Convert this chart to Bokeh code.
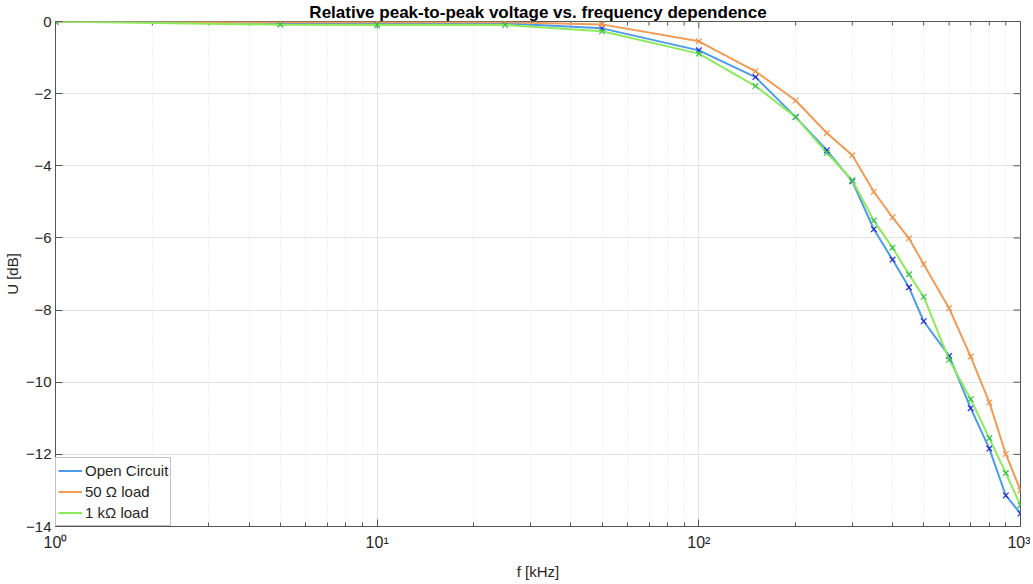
from bokeh.plotting import figure
from bokeh.models import Range1d, Legend, LegendItem, FixedTicker
from bokeh.embed import file_html
from bokeh.resources import INLINE

# ---- data ----
freq_khz = [1, 5, 10, 25, 50, 100, 150, 200, 250, 300, 350, 400, 450, 500, 600, 700, 800, 900, 1000]
open_circuit = [0, -0.04, -0.05, -0.05, -0.19, -0.80, -1.54, -2.65, -3.57, -4.43, -5.76, -6.60,
                -7.37, -8.31, -9.27, -10.72, -11.84, -13.14, -13.64]
load_50 = [0, -0.02, -0.02, -0.02, -0.08, -0.55, -1.38, -2.19, -3.09, -3.71, -4.72, -5.43,
           -6.01, -6.73, -7.95, -9.29, -10.56, -11.99, -13.00]
load_1k = [0, -0.09, -0.10, -0.10, -0.27, -0.89, -1.79, -2.65, -3.64, -4.40, -5.52, -6.27,
           -7.01, -7.63, -9.38, -10.47, -11.55, -12.52, -13.41]

series_names = ["Open Circuit", "50 \u03a9 load", "1 k\u03a9 load"]
x_major = [1, 10, 100, 1000]
x_labels = {1: "10\u2070", 10: "10\u00b9", 100: "10\u00b2", 1000: "10\u00b3"}
y_major = [-14, -12, -10, -8, -6, -4, -2, 0]
title_text = "Relative peak-to-peak voltage vs. frequency dependence"

line_colors = ["#4D9BE6", "#F29B57", "#8CEB5B"]
marker_colors = ["#2424D8", "#F0924A", "#35C24A"]

FONT = "Liberation Sans"
TXT = "#262626"
AX = "#555555"

x_minor = [m * d for d in [1, 10, 100] for m in range(2, 10)]

X0, X1, Y0, Y1 = 1, 1000, -14, 0
FRAME_W, FRAME_H = 965, 506
BL, BT = 55, 21
W = 1030
H = 582

p = figure(width=W, height=H, x_axis_type="log",
           x_range=Range1d(X0, X1), y_range=Range1d(Y0, Y1),
           output_backend="svg", toolbar_location=None, title=title_text,
           min_border_left=BL, min_border_right=W - BL - FRAME_W, min_border_top=BT,
           min_border_bottom=H - BT - FRAME_H)
p.outline_line_color = AX
p.outline_line_width = 1
p.background_fill_color = "white"

p.title.align = "center"
p.title.text_font = FONT
p.title.text_font_size = "17px"
p.title.text_font_style = "bold"
p.title.text_color = "black"
p.title.standoff = 0
p.title.offset = 0

xt = FixedTicker(ticks=x_major, minor_ticks=x_minor)
yt = FixedTicker(ticks=y_major)

xa = p.xaxis[0]
xa.ticker = xt
xa.major_label_overrides = x_labels
xa.axis_label = "f [kHz]"
ya = p.yaxis[0]
ya.ticker = yt
ya.axis_label = "U [dB]"

for ax in (xa, ya):
    ax.axis_line_color = AX
    ax.major_tick_line_color = AX
    ax.minor_tick_line_color = AX
    ax.major_tick_in = 7
    ax.major_tick_out = 0
    ax.minor_tick_in = 4
    ax.minor_tick_out = 0
    ax.major_label_text_font = FONT
    ax.major_label_text_font_size = "15px"
    ax.major_label_text_color = TXT
    ax.axis_label_text_font = FONT
    ax.axis_label_text_font_size = "15px"
    ax.axis_label_text_font_style = "normal"
    ax.axis_label_text_color = TXT
ya.minor_tick_line_color = None
xa.major_label_text_font_size = "16px"
xa.major_label_standoff = 7
xa.axis_label_standoff = 9
ya.major_label_standoff = 4
ya.axis_label_standoff = 2

# inward ticks on the top and right edges of the box (lengths in px converted to data units)
dec_per_px = 3.0 / FRAME_W
unit_per_px = (Y1 - Y0) / FRAME_H
maj_len, min_len = 7, 4
p.segment(x0=x_major, y0=[Y1] * len(x_major), x1=x_major,
          y1=[Y1 - maj_len * unit_per_px] * len(x_major), line_color=AX, line_width=1)
p.segment(x0=x_minor, y0=[Y1] * len(x_minor), x1=x_minor,
          y1=[Y1 - min_len * unit_per_px] * len(x_minor), line_color=AX, line_width=1)
p.segment(x0=[X1] * len(y_major), y0=y_major, x1=[X1 / 10 ** (maj_len * dec_per_px)] * len(y_major),
          y1=y_major, line_color=AX, line_width=1)

# grids
p.xgrid.ticker = xt
p.ygrid.ticker = yt
p.xgrid.grid_line_color = "#E3E3E3"
p.ygrid.grid_line_color = "#E3E3E3"
p.xgrid.minor_grid_line_color = "#E3E3E3"
p.xgrid.minor_grid_line_dash = "1 2"

# data
items = []
for name, vals, lc, mc in zip(series_names, [open_circuit, load_50, load_1k], line_colors, marker_colors):
    r = p.line(freq_khz, vals, line_color=lc, line_width=2)
    p.scatter(freq_khz, vals, marker="x", size=8, line_color=mc, line_width=1.2)
    items.append(LegendItem(label=name, renderers=[r]))

legend = Legend(items=items, location="bottom_left", margin=0, padding=2, spacing=0,
                label_height=21, glyph_height=21, glyph_width=24, label_standoff=3,
                label_text_font=FONT, label_text_font_size="15px", label_text_color=TXT,
                border_line_color="#888888", background_fill_color="white",
                background_fill_alpha=1.0)
p.add_layout(legend)

open("out.html", "w").write(file_html(p, INLINE))
